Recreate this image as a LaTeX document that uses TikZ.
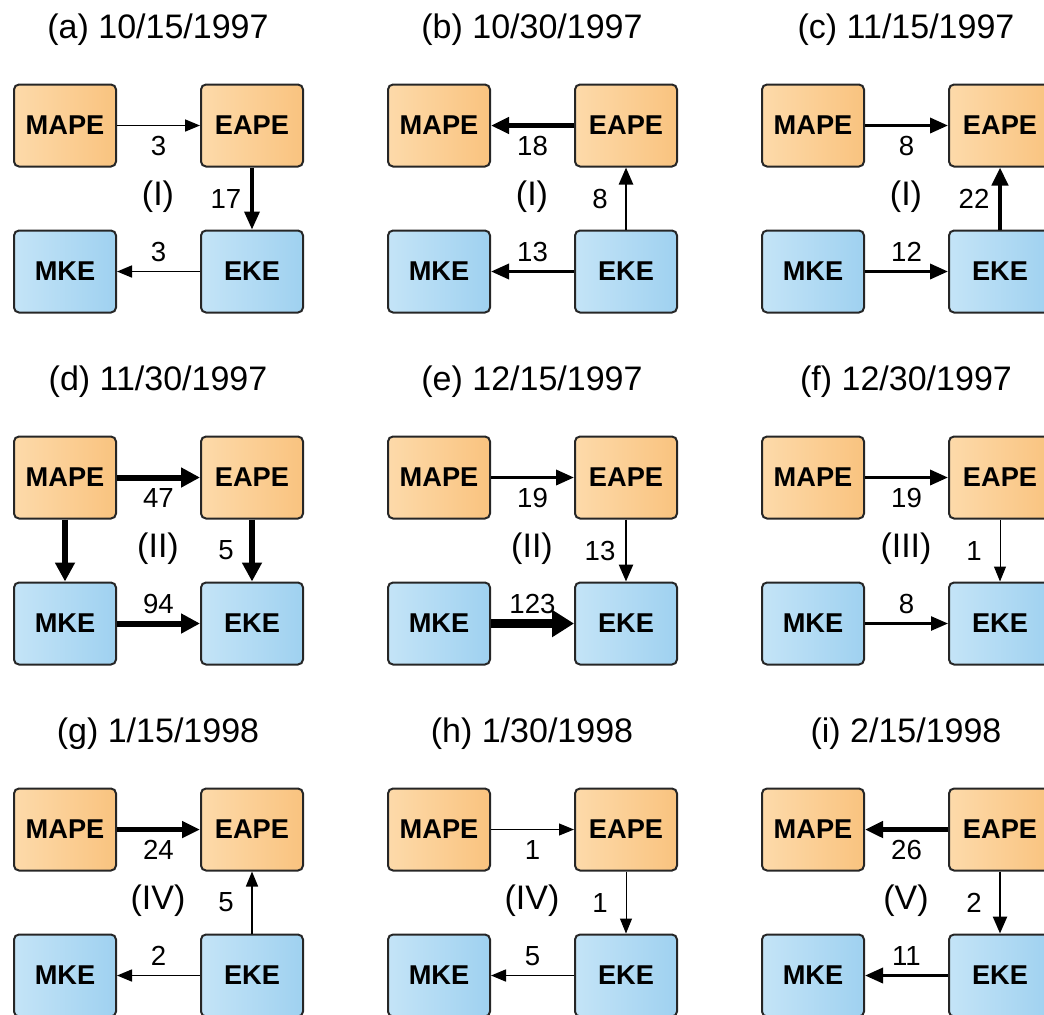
\documentclass[tikz,border=0pt]{standalone}
\usepackage{fontspec}
\setmainfont{Liberation Sans}
\usetikzlibrary{arrows.meta}

\definecolor{apeLight}{HTML}{FDDAAA}
\definecolor{apeDark}{HTML}{F9C37F}
\definecolor{keLight}{HTML}{C4E4F7}
\definecolor{keDark}{HTML}{9FD1F0}
\definecolor{boxLine}{HTML}{262626}

% title, the four reservoirs and the regime tag of one panel
\newcommand{\energypanel}[3]{%
  \node[stamp]  (#1title) at (158,30)     {#2};
  \node[ape]    (#1MAPE)  at (65,125.5)   {MAPE};
  \node[ape]    (#1EAPE)  at (252,125.5)  {EAPE};
  \node[ke]     (#1MKE)   at (65,271.5)   {MKE};
  \node[ke]     (#1EKE)   at (252,271.5)  {EKE};
  \node[regime] (#1reg)   at (158,197)    {#3};
}

\begin{document}
\begin{tikzpicture}[
  x=0.5pt, y=-0.5pt,
  res/.style={draw=boxLine,line width=1pt,rounded corners=2.5pt,
              minimum width=51pt,minimum height=41pt,inner sep=0pt,
              font=\fontsize{13.6}{15}\selectfont\bfseries},
  ape/.style={res,left color=apeLight,right color=apeDark},
  ke/.style={res,left color=keLight,right color=keDark},
  stamp/.style={font=\fontsize{17}{20}\selectfont,inner sep=0pt},
  regime/.style={font=\fontsize{17}{20}\selectfont,inner sep=0pt},
  num/.style={font=\fontsize{13.8}{16}\selectfont,inner sep=0pt},
  lbdown/.style={num,yshift=-10pt},
  lbup/.style={num,yshift=9.75pt},
  lbleft/.style={num,xshift=-13pt},
  e1/.style={-{Triangle[length=7.5pt,width=6pt]},line width=0.5pt},
  e2/.style={-{Triangle[length=7.5pt,width=6pt]},line width=0.8pt},
  e3/.style={-{Triangle[length=8.5pt,width=7pt]},line width=1.25pt},
  e4/.style={-{Triangle[length=9pt,width=7.5pt]},line width=1.75pt},
  e5/.style={-{Triangle[length=9pt,width=8pt]},line width=2.25pt},
  e6/.style={-{Triangle[length=9.5pt,width=9.5pt]},line width=3pt},
  e7/.style={-{Triangle[length=11pt,width=13pt]},line width=4.5pt},
]
\useasboundingbox (0,0) rectangle (1044,1014);
\clip (0,0) rectangle (1044,1014);

% (a)
\begin{scope}
  \energypanel{a}{(a) 10/15/1997}{(I)}
  \draw[e2] (aMAPE) -- node[lbdown]{3}  (aEAPE);
  \draw[e4] (aEAPE) -- node[lbleft]{17} (aEKE);
  \draw[e2] (aEKE)  -- node[lbup]{3}    (aMKE);
\end{scope}

% (b)
\begin{scope}[shift={(374,0)}]
  \energypanel{b}{(b) 10/30/1997}{(I)}
  \draw[e5] (bEAPE) -- node[lbdown]{18} (bMAPE);
  \draw[e3] (bEKE)  -- node[lbleft]{8}  (bEAPE);
  \draw[e4] (bEKE)  -- node[lbup]{13}   (bMKE);
\end{scope}

% (c)
\begin{scope}[shift={(748,0)}]
  \energypanel{c}{(c) 11/15/1997}{(I)}
  \draw[e4] (cMAPE) -- node[lbdown]{8}  (cEAPE);
  \draw[e5] (cEKE)  -- node[lbleft]{22} (cEAPE);
  \draw[e4] (cMKE)  -- node[lbup]{12}   (cEKE);
\end{scope}

% (d)
\begin{scope}[shift={(0,352)}]
  \energypanel{d}{(d) 11/30/1997}{(II)}
  \draw[e6] (dMAPE) -- node[lbdown]{47} (dEAPE);
  \draw[e6] (dMAPE) -- (dMKE);
  \draw[e6] (dEAPE) -- node[lbleft]{5}  (dEKE);
  \draw[e6] (dMKE)  -- node[lbup]{94}   (dEKE);
\end{scope}

% (e)
\begin{scope}[shift={(374,352)}]
  \energypanel{e}{(e) 12/15/1997}{(II)}
  \draw[e4] (eMAPE) -- node[lbdown]{19} (eEAPE);
  \draw[e3] (eEAPE) -- node[lbleft]{13} (eEKE);
  \draw[e7] (eMKE)  -- node[lbup]{123}  (eEKE);
\end{scope}

% (f)
\begin{scope}[shift={(748,352)}]
  \energypanel{f}{(f) 12/30/1997}{(III)}
  \draw[e4] (fMAPE) -- node[lbdown]{19} (fEAPE);
  \draw[e1] (fEAPE) -- node[lbleft]{1}  (fEKE);
  \draw[e3] (fMKE)  -- node[lbup]{8}    (fEKE);
\end{scope}

% (g)
\begin{scope}[shift={(0,704)}]
  \energypanel{g}{(g) 1/15/1998}{(IV)}
  \draw[e5] (gMAPE) -- node[lbdown]{24} (gEAPE);
  \draw[e2] (gEKE)  -- node[lbleft]{5}  (gEAPE);
  \draw[e2] (gEKE)  -- node[lbup]{2}    (gMKE);
\end{scope}

% (h)
\begin{scope}[shift={(374,704)}]
  \energypanel{h}{(h) 1/30/1998}{(IV)}
  \draw[e1] (hMAPE) -- node[lbdown]{1}  (hEAPE);
  \draw[e1] (hEAPE) -- node[lbleft]{1}  (hEKE);
  \draw[e2] (hEKE)  -- node[lbup]{5}    (hMKE);
\end{scope}

% (i)
\begin{scope}[shift={(748,704)}]
  \energypanel{i}{(i) 2/15/1998}{(V)}
  \draw[e5] (iEAPE) -- node[lbdown]{26} (iMAPE);
  \draw[e3] (iEAPE) -- node[lbleft]{2}  (iEKE);
  \draw[e4] (iEKE)  -- node[lbup]{11}   (iMKE);
\end{scope}

\end{tikzpicture}
\end{document}
